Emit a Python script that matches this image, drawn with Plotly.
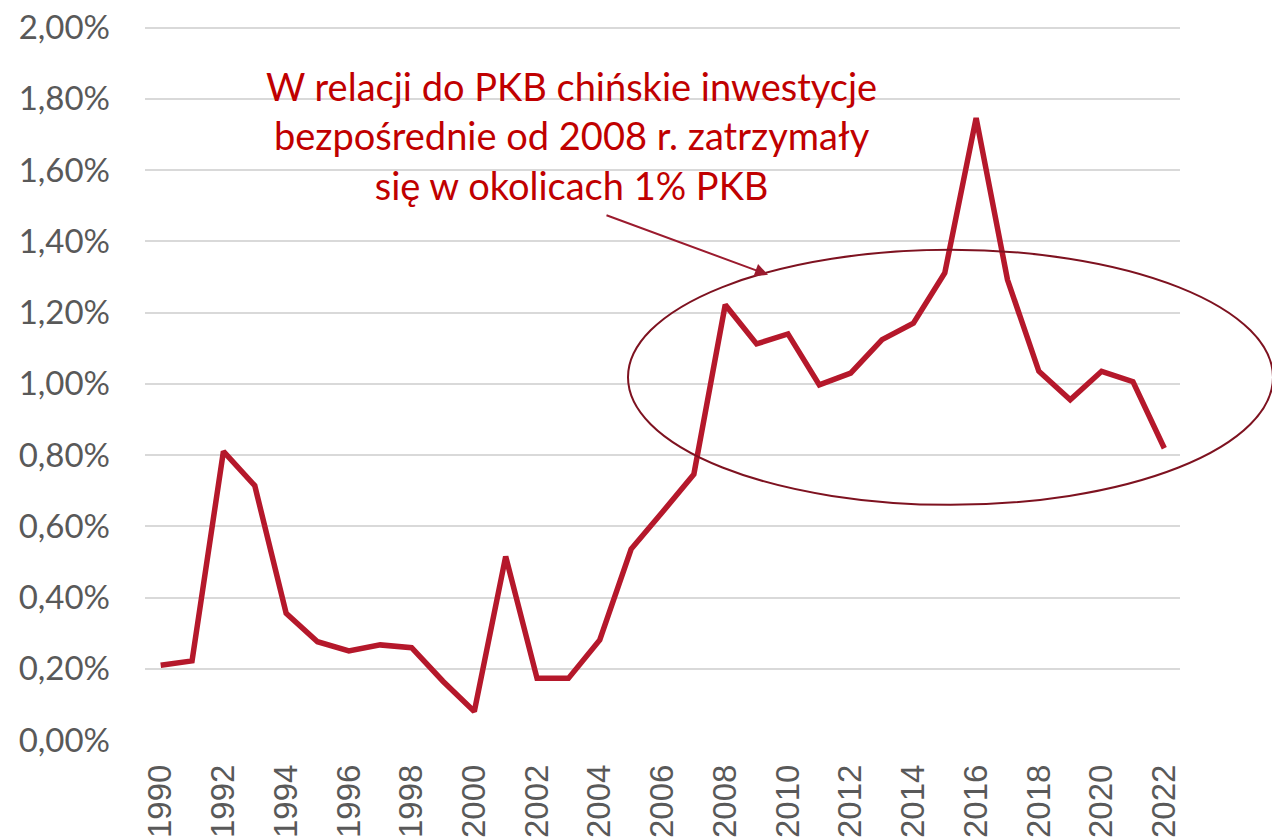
import plotly.graph_objects as go

years = list(range(1990, 2023))
fdi_pct_gdp = [0.21, 0.222, 0.81, 0.714, 0.356, 0.276, 0.25, 0.267, 0.259, 0.165, 0.08,
               0.515, 0.173, 0.173, 0.281, 0.536, 0.64, 0.746, 1.222, 1.112, 1.14,
               0.997, 1.03, 1.124, 1.17, 1.311, 1.746, 1.292, 1.035, 0.955, 1.035,
               1.006, 0.819]
tick_years = list(range(1990, 2023, 2))
y_ticks = [0, 0.2, 0.4, 0.6, 0.8, 1.0, 1.2, 1.4, 1.6, 1.8, 2.0]
y_ticktext = [f"{v:.2f}".replace(".", ",") + "%" for v in y_ticks]
note = "W relacji do PKB chińskie inwestycje<br>bezpośrednie od 2008 r. zatrzymały<br>się w okolicach 1% PKB"

W, H = 1272, 839
Y_TOP_VAL = 2.01                     # small headroom so the 2,00% gridline is drawn
PL, PR, PB = 145, 1180, 740          # plot area in screen pixels
Y2_PIX = 28                          # screen y of the 2,00% gridline
PT = PB - (PB - Y2_PIX) * Y_TOP_VAL / 2.0
L, T = PL, PT
R = W - PR
B = H - PB
pw, ph = PR - PL, PB - PT

def px(x):
    return (x - PL) / pw

def py(y):
    return (PB - y) / ph

fig = go.Figure()
fig.add_trace(go.Scatter(x=years, y=fdi_pct_gdp, mode="lines",
                         line=dict(color="#B5182B", width=5.5),
                         hoverinfo="x+y", showlegend=False))

fig.add_shape(type="circle", xref="paper", yref="paper",
              x0=px(628), x1=px(1273), y0=py(505), y1=py(250),
              line=dict(color="#7E1220", width=2), layer="above")

fig.add_annotation(xref="paper", yref="paper", x=px(768), y=py(275),
                   axref="pixel", ayref="pixel", ax=-163, ay=-60,
                   text="", showarrow=True, arrowhead=2, arrowsize=1.3,
                   arrowwidth=2, arrowcolor="#9B1B2E", standoff=0)

fig.add_annotation(xref="paper", yref="paper", x=px(571), y=py(136),
                   text=note, showarrow=False, xanchor="center", yanchor="middle",
                   align="center",
                   font=dict(family="Lato", size=38, color="#C00000"))

fig.update_layout(
    width=W, height=H,
    margin=dict(l=L, r=R, t=T, b=B, autoexpand=False),
    paper_bgcolor="white", plot_bgcolor="white",
    xaxis=dict(range=[1989.5, 2022.5], tickmode="array", tickvals=tick_years,
               ticktext=[str(y) for y in tick_years], tickangle=-90,
               showgrid=False, zeroline=False, showline=False, ticks="",
               ticklabelstandoff=17,
               tickfont=dict(family="Liberation Sans", size=33, color="#595959")),
    yaxis=dict(range=[0, Y_TOP_VAL], tickmode="array", tickvals=y_ticks,
               ticktext=y_ticktext,
               showgrid=True, gridcolor="#D9D9D9", gridwidth=2,
               zeroline=False, showline=False, ticks="",
               ticklabelstandoff=34,
               tickfont=dict(family="Lato", size=33, color="#595959")),
)

fig.write_html("out.html", config={"displayModeBar": False},
               post_script="document.body.style.margin='0';")
